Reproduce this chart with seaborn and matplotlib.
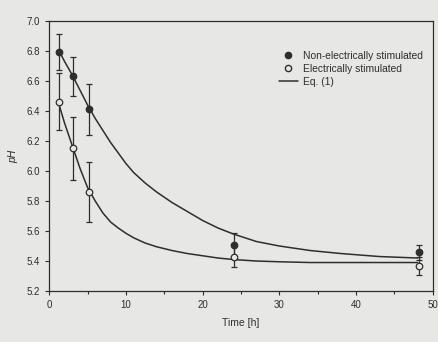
import numpy as np
import pandas as pd
import matplotlib
matplotlib.use('Agg')
import matplotlib.pyplot as plt
import seaborn as sns
from matplotlib.lines import Line2D

# Data
time_pts = [1.3, 3.1, 5.2, 24.1, 48.2]
ph_non = [6.79, 6.63, 6.41, 5.51, 5.46]
err_non = [0.12, 0.13, 0.17, 0.08, 0.05]
ph_el = [6.46, 6.15, 5.86, 5.43, 5.37]
err_el = [0.19, 0.21, 0.20, 0.07, 0.06]

# Eq. (1) curves
curve_t = [1.3, 2, 3, 4, 5, 6, 7, 8, 9, 10, 11, 12.5, 14, 16, 18, 20, 22, 24,
           27, 30, 34, 38, 43, 48]
curve_non = [6.80, 6.73, 6.64, 6.54, 6.44, 6.35, 6.27, 6.19, 6.12, 6.05, 5.99, 5.92,
             5.86, 5.79, 5.73, 5.67, 5.62, 5.58, 5.53, 5.50, 5.47, 5.45, 5.43, 5.42]
curve_el = [6.44, 6.32, 6.17, 6.02, 5.89, 5.80, 5.72, 5.66, 5.62, 5.585, 5.555, 5.52,
            5.495, 5.47, 5.45, 5.435, 5.42, 5.41, 5.40, 5.395, 5.39, 5.39, 5.39, 5.39]

bg = '#e7e7e5'
ink = '#2e2e2e'

sns.set_style('ticks')
plt.rcParams['font.family'] = ['Liberation Sans', 'DejaVu Sans']

fig = plt.figure(figsize=(4.39, 3.42), dpi=100, facecolor=bg)
ax = fig.add_axes([0.112, 0.149, 0.874, 0.79])
ax.set_facecolor(bg)

curves = pd.DataFrame({'t': curve_t * 2,
                       'ph': curve_non + curve_el,
                       'grp': ['non'] * len(curve_t) + ['el'] * len(curve_t)})
sns.lineplot(data=curves, x='t', y='ph', units='grp', estimator=None,
             color=ink, lw=1.1, ax=ax, legend=False)

ax.errorbar(time_pts, ph_non, yerr=err_non, fmt='none', ecolor=ink,
            elinewidth=0.9, capsize=2.5, capthick=0.9)
ax.errorbar(time_pts, ph_el, yerr=err_el, fmt='none', ecolor=ink,
            elinewidth=0.9, capsize=2.5, capthick=0.9)
sns.scatterplot(x=time_pts, y=ph_non, color=ink, edgecolor=ink, s=22,
                linewidth=0.9, zorder=3, ax=ax)
sns.scatterplot(x=time_pts, y=ph_el, facecolor=bg, edgecolor=ink, s=22,
                linewidth=0.9, zorder=3, ax=ax)

ax.set_xlim(0, 50)
ax.set_ylim(5.2, 7.0)
ax.set_xticks([0, 10, 20, 30, 40, 50])
ax.set_xticks([5, 15, 25, 35, 45], minor=True)
ax.set_yticks(np.arange(5.2, 7.01, 0.2))
ax.set_yticklabels([f'{v:.1f}' for v in np.arange(5.2, 7.01, 0.2)])
ax.tick_params(axis='both', labelsize=7, colors=ink, length=3, width=0.8)
ax.tick_params(axis='x', which='minor', length=2, width=0.8, color=ink)
for s in ax.spines.values():
    s.set_visible(True)
    s.set_color(ink)
    s.set_linewidth(0.9)

ax.set_xlabel('Time [h]', fontsize=7.5, color=ink, labelpad=6)
ax.set_ylabel('pH', fontsize=7.5, color=ink, style='italic', labelpad=6)

handles = [
    Line2D([], [], marker='o', ls='none', color=ink, markersize=4.5),
    Line2D([], [], marker='o', ls='none', markerfacecolor=bg, markeredgecolor=ink,
           markersize=4.5),
    Line2D([], [], color=ink, lw=1.1),
]
ax.legend(handles, ['Non-electrically stimulated', 'Electrically stimulated', 'Eq. (1)'],
          loc='upper right', bbox_to_anchor=(0.99, 0.912), frameon=False, fontsize=7.4,
          handlelength=1.8, handletextpad=0.5, labelspacing=0.3, labelcolor=ink,
          borderaxespad=0.2)

fig.savefig('out.png', dpi=100, facecolor=bg)
